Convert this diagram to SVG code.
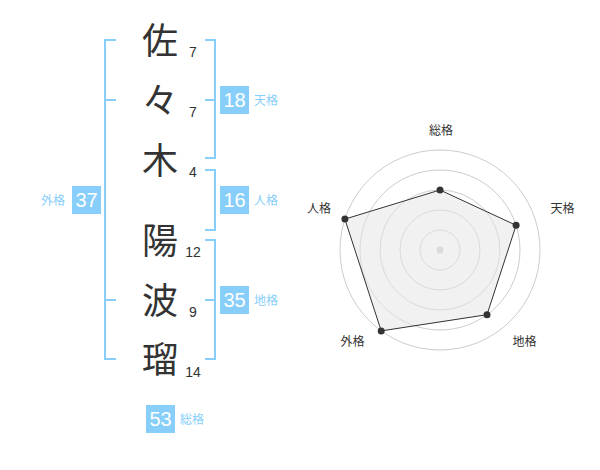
<svg xmlns="http://www.w3.org/2000/svg" width="600" height="470" viewBox="0 0 600 470">
<style>
.ch{font-family:"Noto Sans CJK JP","Noto Sans CJK SC",sans-serif;font-size:36px;fill:#333;text-anchor:middle}
.num{font-family:"Liberation Sans",Arial,sans-serif;font-size:14px;fill:#333;text-anchor:middle}
.br{fill:none;stroke:#87cefa;stroke-width:2}
.box{fill:#87cefa}
.bt{font-family:"Liberation Sans",Arial,sans-serif;font-size:20px;fill:#fff;text-anchor:middle}
.lb{font-family:"Noto Sans CJK JP",sans-serif;font-size:12px;fill:#87cefa}
.rl{font-family:"Noto Sans CJK JP",sans-serif;font-size:12px;fill:#333;text-anchor:middle}
.ring{fill:none;stroke:#ccc;stroke-width:1}
.dot{fill:#333}
</style>
<rect width="600" height="470" fill="#fff"/>
<g id="chars">
<text class="ch" x="160" y="54">佐</text>
<text class="ch" x="160" y="114">々</text>
<text class="ch" x="160" y="174">木</text>
<text class="ch" x="160" y="254">陽</text>
<text class="ch" x="160" y="314">波</text>
<text class="ch" x="160" y="373">瑠</text>
</g>
<g id="strokes">
<text class="num" x="193" y="57">7</text>
<text class="num" x="193" y="117">7</text>
<text class="num" x="193" y="177">4</text>
<text class="num" x="193" y="257">12</text>
<text class="num" x="193" y="317">9</text>
<text class="num" x="193" y="377">14</text>
</g>
<g id="connectors">
<path class="br" d="M116,40 H105 V359 H116 M105,100 H116 M105,300 H116"/>
<path class="br" d="M205,40 H215 V158 H205 M205,100 H215"/>
<path class="br" d="M205,170 H215 V230 H205"/>
<path class="br" d="M205,240 H215 V359 H205 M205,300 H215"/>
</g>
<g id="tenkaku">
<rect class="box" x="220" y="86" width="29" height="28"/>
<text class="bt" x="234.5" y="107">18</text>
<text class="lb" x="254" y="104.5">天格</text>
</g>
<g id="jinkaku">
<rect class="box" x="220" y="186" width="29" height="28"/>
<text class="bt" x="234.5" y="207">16</text>
<text class="lb" x="254" y="204.5">人格</text>
</g>
<g id="chikaku">
<rect class="box" x="220" y="286" width="29" height="28"/>
<text class="bt" x="234.5" y="307">35</text>
<text class="lb" x="254" y="304.5">地格</text>
</g>
<g id="gaikaku">
<rect class="box" x="72" y="186" width="29" height="28"/>
<text class="bt" x="86.5" y="207">37</text>
<text class="lb" x="41" y="204.5">外格</text>
</g>
<g id="soukaku">
<rect class="box" x="146" y="405" width="29" height="28"/>
<text class="bt" x="160.5" y="426">53</text>
<text class="lb" x="180" y="423.5">総格</text>
</g>
<g id="radar">
<circle class="ring" cx="440" cy="250" r="20"/>
<circle class="ring" cx="440" cy="250" r="40"/>
<circle class="ring" cx="440" cy="250" r="60"/>
<circle class="ring" cx="440" cy="250" r="80"/>
<circle class="ring" cx="440" cy="250" r="100"/>
<circle cx="440" cy="250" r="3.5" fill="#ccc"/>
<polygon points="440,190 516.1,225.3 487,314.7 381.2,330.9 344.9,219.1" fill="#e6e6e6" fill-opacity="0.55" stroke="#333" stroke-width="1"/>
<circle class="dot" cx="440" cy="190" r="3.5"/>
<circle class="dot" cx="516.1" cy="225.3" r="3.5"/>
<circle class="dot" cx="487" cy="314.7" r="3.5"/>
<circle class="dot" cx="381.2" cy="330.9" r="3.5"/>
<circle class="dot" cx="344.9" cy="219.1" r="3.5"/>
<text class="rl" x="441" y="135">総格</text>
<text class="rl" x="562.5" y="213">天格</text>
<text class="rl" x="524.5" y="346">地格</text>
<text class="rl" x="352.5" y="346">外格</text>
<text class="rl" x="319" y="213">人格</text>
</g>
</svg>
